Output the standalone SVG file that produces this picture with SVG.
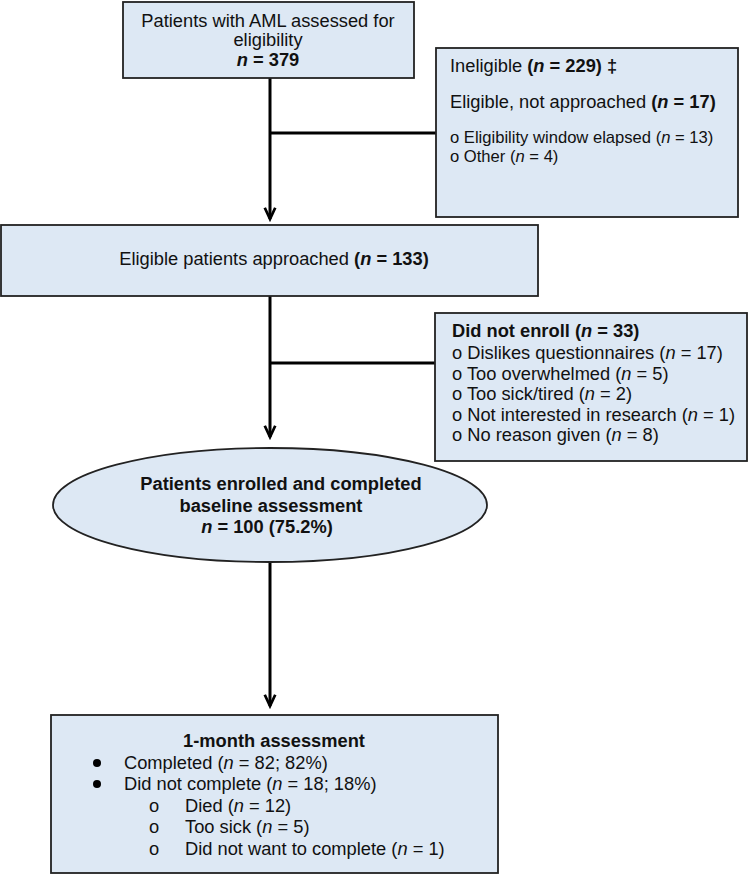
<svg xmlns="http://www.w3.org/2000/svg" width="751" height="875" viewBox="0 0 751 875">
<style>
.box{fill:#dde8f4;stroke:#222;stroke-width:1.8}
.t{font-family:"Liberation Sans",Arial,sans-serif;font-size:18.3px;fill:#111}
.s{font-size:16.6px}
.b{font-weight:bold}
.i{font-style:italic}
.ln{stroke:#000;stroke-width:3;fill:none}
</style>
<defs>
<marker id="ah" viewBox="0 0 12 10" refX="10" refY="5" markerWidth="5" markerHeight="4.4" orient="auto" markerUnits="strokeWidth">
<path d="M1,0.8 L10,5 L1,9.2" fill="none" stroke="#000" stroke-width="2.2"/>
</marker>
</defs>
<rect width="751" height="875" fill="#fff"/>
<g id="connectors">
<line class="ln" x1="270" y1="78" x2="270" y2="219" marker-end="url(#ah)"/>
<line class="ln" x1="270" y1="133" x2="436" y2="133"/>
<line class="ln" x1="270" y1="296" x2="270" y2="437" marker-end="url(#ah)"/>
<line class="ln" x1="270" y1="363" x2="435" y2="363"/>
<line class="ln" x1="270" y1="562" x2="270" y2="706" marker-end="url(#ah)"/>
</g>
<g id="assessed">
<rect class="box" x="123" y="2" width="291" height="76"/>
<text class="t" x="268" y="27" text-anchor="middle">Patients with AML assessed for</text>
<text class="t" x="268" y="46" text-anchor="middle">eligibility</text>
<text class="t b" x="268" y="66" text-anchor="middle"><tspan class="i">n</tspan> = 379</text>
</g>
<g id="ineligible">
<rect class="box" x="436" y="48" width="302" height="169"/>
<text class="t" x="450" y="72">Ineligible <tspan class="b">(<tspan class="i">n</tspan> = 229) ‡</tspan></text>
<text class="t" x="450" y="108">Eligible, not approached <tspan class="b">(<tspan class="i">n</tspan> = 17)</tspan></text>
<text class="t s" x="450" y="143">o Eligibility window elapsed (<tspan class="i">n</tspan> = 13)</text>
<text class="t s" x="450" y="162">o Other (<tspan class="i">n</tspan> = 4)</text>
</g>
<g id="approached">
<rect class="box" x="1" y="225" width="537" height="71"/>
<text class="t" x="274" y="265" text-anchor="middle">Eligible patients approached <tspan class="b">(<tspan class="i">n</tspan> = 133)</tspan></text>
</g>
<g id="notenroll">
<rect class="box" x="435" y="313" width="312" height="148"/>
<text class="t b" x="452" y="337">Did not enroll (<tspan class="i">n</tspan> = 33)</text>
<text class="t" x="452" y="359">o Dislikes questionnaires (<tspan class="i">n</tspan> = 17)</text>
<text class="t" x="452" y="380">o Too overwhelmed (<tspan class="i">n</tspan> = 5)</text>
<text class="t" x="452" y="400">o Too sick/tired (<tspan class="i">n</tspan> = 2)</text>
<text class="t" x="452" y="421">o Not interested in research (<tspan class="i">n</tspan> = 1)</text>
<text class="t" x="452" y="441">o No reason given (<tspan class="i">n</tspan> = 8)</text>
</g>
<g id="enrolled">
<ellipse class="box" cx="270" cy="505" rx="217" ry="57"/>
<text class="t b" x="281" y="490" text-anchor="middle">Patients enrolled and completed</text>
<text class="t b" x="271" y="512" text-anchor="middle">baseline assessment</text>
<text class="t b" x="267" y="533" text-anchor="middle"><tspan class="i">n</tspan> = 100 (75.2%)</text>
</g>
<g id="onemonth">
<rect class="box" x="51" y="715" width="447" height="158"/>
<text class="t b" x="274" y="747" text-anchor="middle">1-month assessment</text>
<circle cx="97" cy="763" r="4" fill="#000"/>
<text class="t" x="124" y="769">Completed (<tspan class="i">n</tspan> = 82; 82%)</text>
<circle cx="97" cy="784" r="4" fill="#000"/>
<text class="t" x="124" y="790">Did not complete (<tspan class="i">n</tspan> = 18; 18%)</text>
<text class="t" x="149" y="812">o</text>
<text class="t" x="185" y="812">Died (<tspan class="i">n</tspan> = 12)</text>
<text class="t" x="149" y="833">o</text>
<text class="t" x="185" y="833">Too sick (<tspan class="i">n</tspan> = 5)</text>
<text class="t" x="149" y="855">o</text>
<text class="t" x="185" y="855">Did not want to complete (<tspan class="i">n</tspan> = 1)</text>
</g>
</svg>
